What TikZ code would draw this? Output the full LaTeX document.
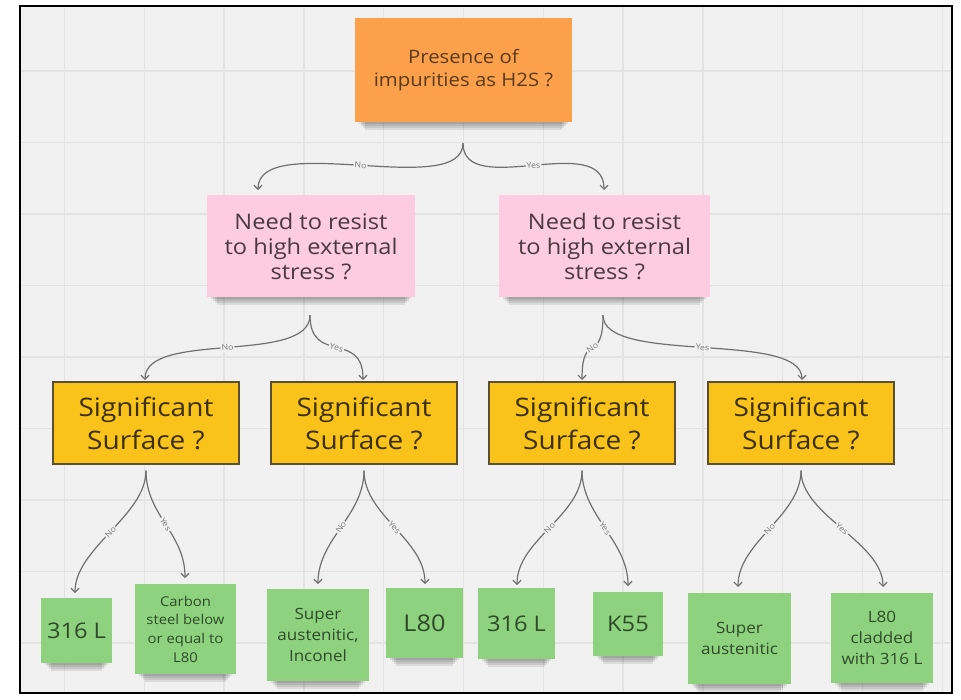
\documentclass[tikz,border=0pt]{standalone}
\usepackage{fontspec}
\setmainfont{Open Sans}[FakeStretch=1.1]
\usetikzlibrary{arrows.meta,calc}
\definecolor{bgc}{HTML}{F1F1F1}
\definecolor{gridc}{HTML}{E3E3E3}
\definecolor{orangec}{HTML}{FBA04B}
\definecolor{pinkc}{HTML}{FDCCE0}
\definecolor{yellowc}{HTML}{F9C31B}
\definecolor{ybord}{HTML}{5A4F30}
\definecolor{greenc}{HTML}{8ED27F}
\definecolor{linec}{HTML}{707070}
\definecolor{lblc}{HTML}{7A7A7A}
\definecolor{otext}{HTML}{5C3A1C}
\definecolor{ptext}{HTML}{4A3A42}
\definecolor{ytext}{HTML}{3B3000}
\definecolor{gtext}{HTML}{2E4B29}
\pgfdeclarelayer{gridlayer}
\pgfdeclarelayer{shadowlayer}
\pgfsetlayers{gridlayer,shadowlayer,main}
\newcommand{\noteshadow}[1]{%
  \foreach \d in {1,3,5,7}{%
    \fill[black, opacity=0.09] ($(#1.south west)+(3+\d,-3)$) rectangle ($(#1.south east)+(-3-\d,\d+1)$);
  }}
\tikzset{
  topnote/.style={fill=orangec, text=otext, minimum width=217pt, minimum height=104pt, inner sep=0pt, align=center, font=\fontsize{18.5}{23}\selectfont},
  pinknote/.style={fill=pinkc, text=ptext, minimum height=102pt, inner sep=0pt, align=center, font=\fontsize{21.5}{25}\selectfont},
  ynote/.style={fill=yellowc, draw=ybord, line width=1.3pt, text=ytext, minimum width=186pt, minimum height=82pt, inner sep=0pt, align=center, font=\fontsize{25.5}{33}\selectfont},
  gnote/.style={fill=greenc, text=gtext, inner sep=0pt, align=center},
  gbig/.style={font=\fontsize{21.5}{26}\selectfont},
  gsmall/.style={font=\fontsize{13.5}{18.7}\selectfont},
  gmid/.style={font=\fontsize{15.5}{21}\selectfont},
  conn/.style={draw=linec, line width=1.2pt, -{Straight Barb[length=4pt,width=8pt]}},
  lbl/.style={pos=0.5, sloped, fill=bgc, text=lblc, inner sep=1pt, font=\fontsize{8}{9}\selectfont}
}
\begin{document}
\begin{tikzpicture}[x=1pt,y=-1pt]
\useasboundingbox (0,0) rectangle (961,699);
\begin{pgfonlayer}{gridlayer}
\fill[white] (0,0) rectangle (961,699);
\fill[bgc] (20,6) rectangle (952,693);
\foreach \i in {0,...,11} \draw[gridc, line width=1.5pt] ({64.5+79.8*\i},7) -- ({64.5+79.8*\i},692);
\foreach \j in {0,...,8} \draw[gridc, line width=1.5pt] (21,{71+71.5*\j}) -- (951,{71+71.5*\j});
\end{pgfonlayer}

% nodes
\node[topnote] (top) at (463.5,70) {Presence of\\impurities as H2S ?};
\node[pinknote, minimum width=208pt] (qL) at (311,246) {Need to resist\\to high external\\stress ?};
\node[pinknote, minimum width=211pt] (qR) at (604.5,246) {Need to resist\\to high external\\stress ?};
\node[ynote] (s1) at (146,423) {Significant\\Surface ?};
\node[ynote] (s2) at (364,423) {Significant\\Surface ?};
\node[ynote] (s3) at (582,423) {Significant\\Surface ?};
\node[ynote] (s4) at (801,423) {Significant\\Surface ?};
\node[gnote, gbig, minimum width=71pt, minimum height=65pt] (g1) at (76.5,630.5) {316 L};
\node[gnote, gsmall, minimum width=101pt, minimum height=90pt] (g2) at (185.5,629) {Carbon\\steel below\\or equal to\\L80};
\node[gnote, gmid, minimum width=102pt, minimum height=92pt] (g3) at (318,635) {Super\\austenitic,\\Inconel};
\node[gnote, font=\fontsize{23}{28}\selectfont, minimum width=77pt, minimum height=70pt] (g4) at (424.5,623) {L80};
\node[gnote, gbig, minimum width=77pt, minimum height=71pt] (g5) at (516.5,623.5) {316 L};
\node[gnote, gbig, minimum width=70pt, minimum height=64pt] (g6) at (628,624) {K55};
\node[gnote, gmid, minimum width=103pt, minimum height=91pt] (g7) at (739.5,638.5) {Super\\austenitic};
\node[gnote, gmid, minimum width=102pt, minimum height=90pt] (g8) at (882,638) {L80\\cladded\\with 316 L};

\begin{pgfonlayer}{shadowlayer}
\foreach \n in {top,qL,qR,g1,g2,g3,g4,g5,g6,g7,g8} {\noteshadow{\n}}
\end{pgfonlayer}

% branch points and arrow ends
\coordinate (b0) at ($(top.south)+(-0.5,21)$);
\coordinate (b1) at ($(qL.south)+(-1,18)$);
\coordinate (b2) at ($(qR.south)+(-1.5,18)$);
\coordinate (b3) at ($(s1.south)+(0,6)$);
\coordinate (b4) at ($(s2.south)+(0,6)$);
\coordinate (b5) at ($(s3.south)+(0,6)$);
\coordinate (b6) at ($(s4.south)+(0,6)$);

\coordinate (eqL) at (258,190);
\coordinate (eqR) at (604,190);
\coordinate (es1) at (145,380);
\coordinate (es2) at (363,380);
\coordinate (es3) at (582,380);
\coordinate (es4) at (802,380);
\coordinate (eg1) at (75,593);
\coordinate (eg2) at (185,578);
\coordinate (eg3) at (318,584);
\coordinate (eg4) at (425,584);
\coordinate (eg5) at (517,585);
\coordinate (eg6) at (628,586);
\coordinate (eg7) at (738,587);
\coordinate (eg8) at (883,587);

\draw[conn] (b0) .. controls +(0,57) and +(0,-60) .. (eqL) node[lbl]{No};
\draw[conn] (b0) .. controls +(0,57) and +(0,-60) .. (eqR) node[lbl]{Yes};
\draw[conn] (b1) .. controls +(0,50) and +(0,-50) .. (es1) node[lbl]{No};
\draw[conn] (b1) .. controls +(0,50) and +(0,-50) .. (es2) node[lbl]{Yes};
\draw[conn] (b2) .. controls +(0,50) and +(0,-50) .. (es3) node[lbl]{No};
\draw[conn] (b2) .. controls +(0,50) and +(0,-50) .. (es4) node[lbl]{Yes};
\draw[conn] (b3) .. controls +(0,45) and +(0,-45) .. (eg1) node[lbl]{No};
\draw[conn] (b3) .. controls +(0,45) and +(0,-45) .. (eg2) node[lbl]{Yes};
\draw[conn] (b4) .. controls +(0,45) and +(0,-45) .. (eg3) node[lbl]{No};
\draw[conn] (b4) .. controls +(0,45) and +(0,-45) .. (eg4) node[lbl]{Yes};
\draw[conn] (b5) .. controls +(0,45) and +(0,-45) .. (eg5) node[lbl]{No};
\draw[conn] (b5) .. controls +(0,45) and +(0,-45) .. (eg6) node[lbl]{Yes};
\draw[conn] (b6) .. controls +(0,45) and +(0,-45) .. (eg7) node[lbl]{No};
\draw[conn] (b6) .. controls +(0,45) and +(0,-45) .. (eg8) node[lbl]{Yes};

% outer frame
\draw[black, line width=2pt] (20,6) rectangle (952,693);
\end{tikzpicture}
\end{document}
